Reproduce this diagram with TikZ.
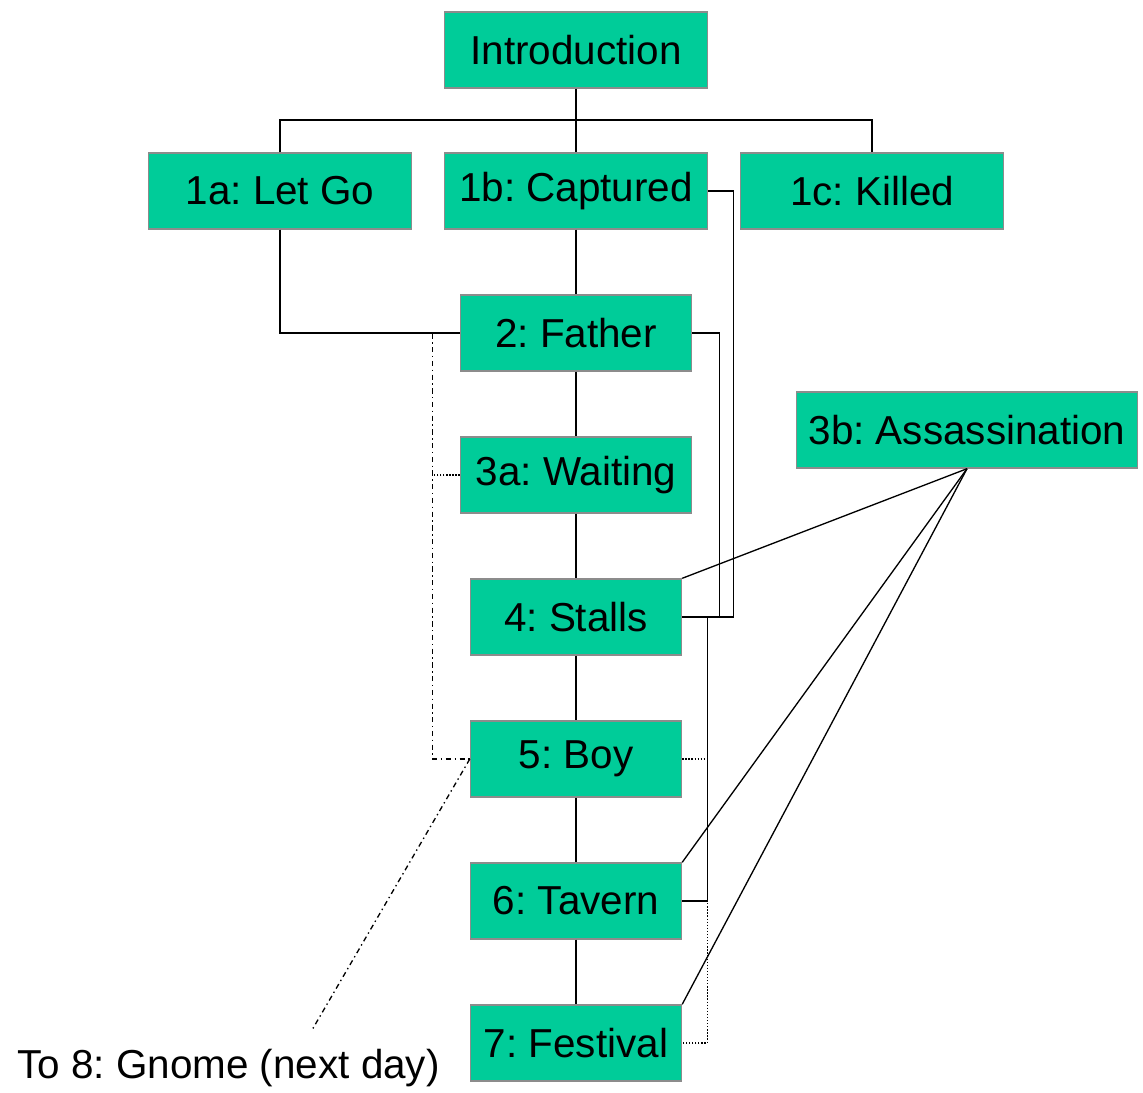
\documentclass[tikz,border=0pt]{standalone}
\usepackage{fontspec}
\setmainfont{Liberation Sans}
\frenchspacing
\definecolor{boxfill}{HTML}{00CC99}
\definecolor{boxline}{HTML}{8C8C8C}

\begin{document}
\begin{tikzpicture}[auto, node distance=2.84cm, line width=0.75pt,
  main/.style = {draw=boxline, line width=0.8pt, fill=boxfill, inner sep=0pt,
    minimum height=1.52cm, font=\fontsize{23}{27}\selectfont},
  wide/.style = {main, minimum width=5.26cm},
  mid/.style = {main, minimum width=4.62cm},
  small/.style = {main, minimum width=4.22cm},
  dots/.style = {densely dotted},
  dashdots/.style = {dash pattern=on 3pt off 2pt on 0.8pt off 2pt}]
\useasboundingbox (0,0) rectangle (22.86,-21.84);
\node[wide] (intro) at (11.52,-1.0) {Introduction};
\node[wide] (1b) [below of=intro, node distance=2.82cm] {1b: Captured};
\node[wide] (1a) [left of=1b, node distance=5.92cm] {1a: Let Go};
\node[wide] (1c) [right of=1b, node distance=5.92cm] {1c: Killed};
\node[mid] (2) [below of=1b] {2: Father};
\node[mid] (3a) [below of=2] {3a: Waiting};
\node[small] (4) [below of=3a] {4: Stalls};
\node[small] (5) [below of=4] {5: Boy};
\node[small] (6) [below of=5] {6: Tavern};
\node[small] (7) [below of=6] {7: Festival};
\node[main, minimum width=6.82cm] (3b) at (19.34,-8.6) {3b: Assassination};
\node[inner sep=0pt, font=\fontsize{23}{27}\selectfont] (gnome) at (4.57,-21.36) {To 8: Gnome (next day)};
\coordinate (split) at (11.52,-2.4);
\coordinate (gnomeend) at (6.24,-20.6);
% top of the tree
\draw (intro.south) -- (1b.north);
\draw (1a.north) |- (1c.north |- split) -- (1c.north);
\draw (1b.south) -- (2.north);
\draw (1a.south) |- (2.west);
% main column
\draw (2.south) -- (3a.north);
\draw (3a.south) -- (4.north);
\draw (4.south) -- (5.north);
\draw (5.south) -- (6.north);
\draw (6.south) -- (7.north);
% right side links
\draw (1b.east) -- ++(0.5,0) |- (4.east);
\draw (2.east) -- ++(0.54,0) |- (4.east);
\draw (4.east) -- ++(0.5,0) |- (6.east);
\draw[dots] (5.east) -- ++(0.5,0) |- (7.east);
\draw (3b.south) -- (4.north east);
\draw (3b.south) -- (6.north east);
\draw (3b.south) -- (7.north east);
% left side links
\draw[dashdots] (2.west) -- ++(-0.54,0) |- (5.west);
\draw[dots] (3a.west) -- ++(-0.54,0);
\draw[dashdots] (5.west) -- (gnomeend);
\end{tikzpicture}
\end{document}
